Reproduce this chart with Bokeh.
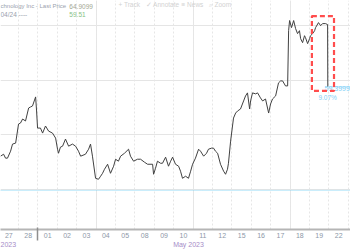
from bokeh.plotting import figure
from bokeh.models import FixedTicker, LinearAxis, Range1d, Span, Grid
from bokeh.core.properties import value
from bokeh.embed import file_html
from bokeh.resources import INLINE

# ---- data ----
day_labels = ["27", "28", "01", "02", "03", "04", "05", "08", "09",
              "10", "11", "12", "15", "16", "17", "18", "19", "22"]
month_labels = ["2023", "May 2023"]

# time in trading-day units (day i spans [i, i+1], day 0 = Apr 27)
t = [0.07, 0.23, 0.33, 0.43, 0.59, 0.69, 0.85, 1.00, 1.10, 1.21, 1.36, 1.52, 1.62, 1.72, 1.88,
     1.93, 1.98, 2.13, 2.24, 2.39, 2.55, 2.75, 2.91, 3.01, 3.06, 3.16, 3.27, 3.42, 3.58, 3.78,
     3.94, 4.09, 4.20, 4.45, 4.61, 4.71, 4.81, 4.97, 5.12, 5.23, 5.33, 5.43, 5.59, 5.74, 5.90,
     6.00, 6.15, 6.26, 6.46, 6.67, 6.77, 6.93, 7.13, 7.29, 7.49, 7.65, 7.91, 7.96, 8.06, 8.16,
     8.32, 8.42, 8.58, 8.73, 8.84, 8.94, 9.09, 9.25, 9.35, 9.45, 9.61, 9.76, 9.87, 9.97, 10.12,
     10.28, 10.38, 10.54, 10.69, 10.79, 10.95, 11.05, 11.15, 11.26, 11.41, 11.57, 11.67, 11.77,
     11.82, 11.93, 12.08, 12.19, 12.29, 12.44, 12.60, 12.70, 12.80, 12.91, 12.96, 13.06, 13.22,
     13.32, 13.47, 13.58, 13.73, 13.89, 13.99, 14.09, 14.25, 14.40, 14.51, 14.61, 14.76, 14.87,
     14.92, 14.97, 15.07, 15.18, 15.28, 15.38, 15.48, 15.54, 15.64, 15.74, 15.79, 15.90, 16.00,
     16.05, 16.16, 16.26, 16.31, 16.46, 16.57, 16.67, 16.82, 16.93, 16.94]
price = [53.04, 53.22, 52.86, 52.86, 53.50, 54.15, 54.24, 55.99, 56.08, 56.45, 56.27, 57.46, 57.56,
         57.65, 58.48, 57.19, 55.62, 55.62, 55.16, 55.81, 55.34, 55.16, 54.70, 53.68, 53.31, 53.87,
         53.96, 54.61, 53.96, 54.15, 53.96, 53.50, 53.04, 53.22, 53.68, 54.15, 53.04, 51.01, 50.92,
         51.20, 51.47, 51.84, 52.30, 51.47, 52.12, 52.76, 52.58, 53.04, 53.31, 53.68, 53.04, 52.58,
         52.76, 52.76, 52.49, 52.30, 52.30, 51.38, 51.93, 52.58, 52.39, 52.39, 52.95, 52.12, 52.58,
         52.95, 52.30, 52.12, 51.66, 51.01, 51.20, 51.01, 51.66, 52.30, 52.86, 53.68, 53.50, 53.04,
         53.31, 53.68, 53.78, 53.78, 53.50, 53.31, 52.30, 51.66, 51.38, 51.84, 52.39, 54.42, 56.54,
         57.00, 57.19, 57.37, 58.11, 58.57, 58.85, 57.37, 58.11, 58.85, 58.76, 58.85, 58.39, 58.11,
         58.29, 57.00, 57.83, 58.29, 58.57, 59.77, 59.95, 59.95, 59.49, 59.49, 64.56, 65.49, 64.84,
         65.49, 64.75, 64.29, 64.56, 63.83, 63.46, 64.10, 63.92, 63.37, 63.83, 64.10, 64.29, 64.56,
         64.84, 65.30, 65.02, 65.21, 65.21, 65.12, 59.40]

last_price_text = "59.3999"
change_text = "9.07%"
ref_level = 49.90
box_left, box_right, box_top, box_bottom = 16.12, 17.26, 65.90, 59.03

header_name = "chnology Inc - Last Price"
header_value = "64.9099"
header_date = "04/24 ----"
header_value2 = "59.51"
toolbar_items = ["+ Track", "\u2713 Annotate", "\u2261 News", "\u2315 Zoom"]

# ---- figure ----
FONT = value("Liberation Sans")
p = figure(width=350, height=250, output_backend="svg", toolbar_location=None,
           x_range=Range1d(0.07, 18.11), y_range=Range1d(46.31, 67.33),
           x_axis_location=None, y_axis_location=None, min_border=0,
           outline_line_color=None, background_fill_color="white",
           border_fill_color="white")

n_days = len(day_labels)
p.add_layout(Grid(dimension=0, ticker=FixedTicker(ticks=list(range(1, n_days + 1))),
                  grid_line_color="#e6e6e6", grid_line_dash="2 2", grid_line_width=1))

ax1 = LinearAxis(ticker=FixedTicker(ticks=[k + 0.5 for k in range(n_days)], minor_ticks=[]),
                 major_label_overrides={k + 0.5: lab for k, lab in enumerate(day_labels)},
                 axis_line_color="#b5b5b5", axis_line_width=2,
                 major_tick_in=0, major_tick_out=0, minor_tick_in=0, minor_tick_out=0,
                 major_label_text_font_size="7px", major_label_text_color="#8d98a8",
                 major_label_text_font="Liberation Sans", major_label_standoff=3)
p.add_layout(ax1, "below")

ax2 = LinearAxis(ticker=FixedTicker(ticks=[0.33, 9.76], minor_ticks=[2.0]),
                 major_label_overrides={0.33: month_labels[0], 9.76: month_labels[1]},
                 axis_line_color=None, major_tick_in=0, major_tick_out=0,
                 minor_tick_in=13, minor_tick_out=0, minor_tick_line_color="#8f8f8f",
                 minor_tick_line_width=1.5,
                 major_label_text_font_size="7px", major_label_text_color="#a68cc8",
                 major_label_text_font="Liberation Sans", major_label_standoff=0)
p.add_layout(ax2, "below")

p.add_layout(Span(location=ref_level, dimension="width", line_color="#86d5f5",
                  line_dash="1 1", line_width=1))

p.line(t, price, line_color="#404040", line_width=1)

p.ray(x=[t[-1]], y=[price[-1]], length=0, angle=0, line_color="#a9defa", line_width=1)
p.text(x=[16.77], y=[price[-1] - 0.15], text=[last_price_text], text_font=FONT,
       text_font_size="7px", text_color="#7fd0f7", text_baseline="middle", text_align="left")
p.text(x=[16.93], y=[price[-1] - 1.0], text=[change_text], text_font=FONT,
       text_font_size="6.5px", text_color="#7fd0f7", text_baseline="middle", text_align="center")

p.quad(left=[box_left], right=[box_right], top=[box_top], bottom=[box_bottom],
       fill_color=None, line_color="#ff4d4d", line_width=2.2, line_dash="5 3")

# header overlay
y1, y2 = 66.78, 66.04
p.text(x=[0.07], y=[y1], text=[header_name], text_font=FONT, text_font_size="6px",
       text_color="#9aa1ad", text_baseline="middle", text_align="left")
p.text(x=[3.62], y=[y1], text=[header_value], text_font=FONT, text_font_size="6.5px",
       text_color="#a3a892", text_baseline="middle", text_align="left")
p.text(x=[0.07], y=[y2], text=[header_date], text_font=FONT, text_font_size="6.5px",
       text_color="#9aa1ad", text_baseline="middle", text_align="left")
p.text(x=[3.62], y=[y2], text=[header_value2], text_font=FONT, text_font_size="6.5px",
       text_color="#86bf86", text_baseline="middle", text_align="left")
p.text(x=[6.15, 7.55, 9.4, 10.8], y=[66.96] * 4, text=toolbar_items, text_font=FONT,
       text_font_size="6.5px", text_color="#d2d2d2", text_baseline="middle", text_align="left")

open("out.html", "w").write(file_html(p, INLINE))
